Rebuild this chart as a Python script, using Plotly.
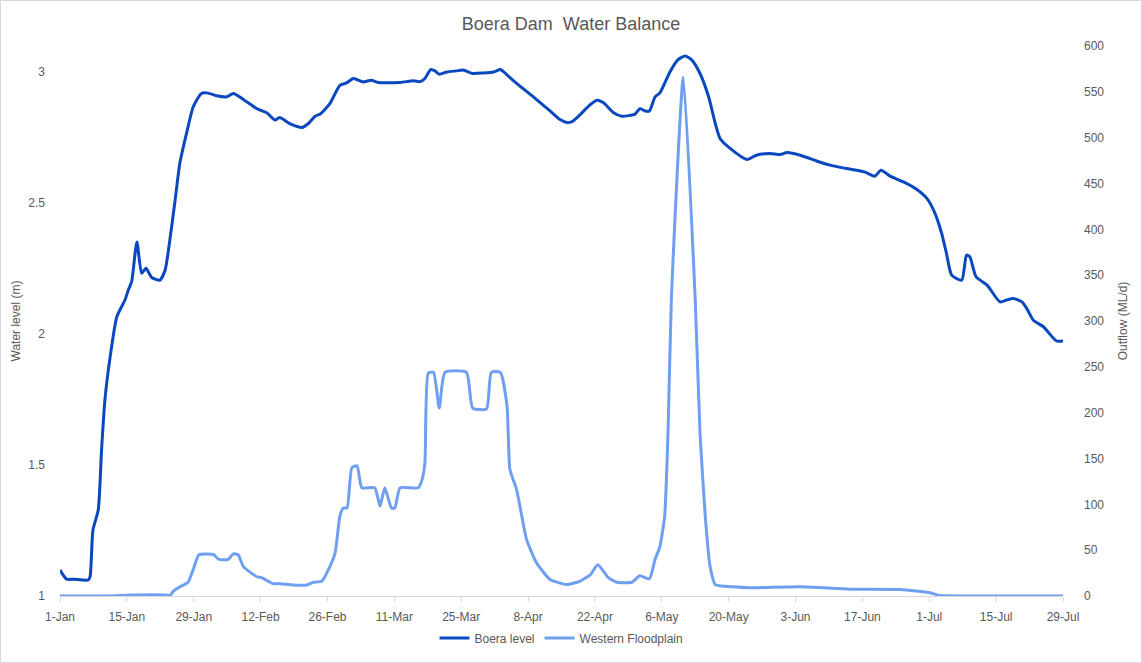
import pandas as pd
import plotly.graph_objects as go

# ---- data (day offsets from 1-Jan) ----
start = pd.Timestamp("2024-01-01")

level_days = [0, 1.4, 2.8, 5.9, 6.3, 6.9, 8.0, 8.7, 9.4, 10.5, 11.9, 13.6, 14.3, 15.0, 16.1, 17.1,
              18.0, 19.2, 20.9, 22.0, 23.0, 24.1, 25.1, 26.5, 27.9, 29.6, 30.8, 32.8, 34.9, 36.3,
              38.4, 41.2, 43.3, 45.0, 46.0, 48.1, 50.7, 52.0, 53.4, 54.5, 56.5, 58.6, 60.0, 61.4,
              63.5, 65.2, 66.6, 71.2, 74.0, 75.4, 76.4, 77.6, 78.5, 79.4, 81.0, 83.0, 84.4, 86.5,
              88.6, 90.8, 92.2, 92.9, 95.6, 99.1, 102.6, 104.7, 106.1, 107.1, 108.8, 110.9, 112.4,
              113.8, 115.9, 117.6, 120.4, 121.4, 122.5, 123.4, 124.6, 125.6, 127.7, 129.4, 130.9,
              132.3, 134.0, 135.8, 137.2, 138.2, 140.3, 143.8, 145.8, 148.6, 150.8, 152.2, 155.0,
              158.4, 161.2, 164.7, 168.5, 170.6, 171.9, 173.8, 176.6, 179.4, 181.5, 183.2, 184.6,
              185.6, 186.7, 188.8, 189.8, 190.5, 191.8, 194.1, 196.8, 198.2, 199.6, 201.4, 202.4,
              203.8, 205.9, 208.6, 210.0]
level_vals = [1.099, 1.064, 1.064, 1.061, 1.074, 1.252, 1.328, 1.557, 1.748, 1.913, 2.066, 2.13,
              2.168, 2.20, 2.352, 2.232, 2.251, 2.216, 2.206, 2.244, 2.359, 2.511, 2.653, 2.767,
              2.868, 2.919, 2.921, 2.91, 2.906, 2.919, 2.896, 2.861, 2.845, 2.817, 2.827, 2.804,
              2.789, 2.804, 2.832, 2.84, 2.88, 2.95, 2.959, 2.976, 2.963, 2.969, 2.961, 2.961,
              2.967, 2.964, 2.976, 3.01, 3.005, 2.992, 3.001, 3.005, 3.008, 2.995, 2.997, 3.001,
              3.01, 3.001, 2.957, 2.906, 2.852, 2.819, 2.808, 2.81, 2.836, 2.874, 2.893, 2.883,
              2.845, 2.832, 2.84, 2.861, 2.852, 2.852, 2.906, 2.921, 3.001, 3.048, 3.062, 3.046,
              2.995, 2.906, 2.804, 2.747, 2.709, 2.667, 2.683, 2.69, 2.686, 2.693, 2.683, 2.661,
              2.645, 2.632, 2.619, 2.603, 2.626, 2.603, 2.581, 2.552, 2.518, 2.461, 2.384, 2.308,
              2.225, 2.206, 2.302, 2.295, 2.219, 2.187, 2.123, 2.13, 2.136, 2.123, 2.098, 2.053,
              2.028, 1.974, 1.974]

flow_days = [0, 10, 15, 22.1, 23.0, 23.7, 25.1, 26.8, 27.9, 29.1, 32.2, 33.2, 35.2, 36.3, 37.3,
             38.4, 41.2, 42.2, 44.6, 46.0, 48.8, 51.7, 53.1, 54.8, 56.5, 57.6, 58.6, 59.3, 60.1,
             61.1, 62.2, 63.2, 65.9, 67.0, 68.0, 69.4, 70.1, 71.2, 75.0, 75.8, 76.4, 77.1, 78.2,
             79.4, 80.6, 85.1, 86.4, 89.3, 90.3, 92.2, 93.6, 94.2, 95.6, 97.7, 99.8, 102.6,
             106.1, 108.8, 111.0, 112.6, 114.8, 116.6, 119.7, 121.4, 123.4, 124.6, 125.6, 126.6,
             127.3, 128.0, 130.5, 133.0, 134.0, 135.1, 136.1, 137.2, 141.0, 144.5, 155.0, 165.4,
             175.9, 182.2, 184.2, 191, 210]
flow_vals = [0, 0, 1, 1, 0.5, 5, 10, 15, 29, 45, 45, 40, 40, 46, 45, 32, 21, 20, 13.5, 13.5, 12,
             12, 15, 16, 32, 47, 87, 96, 96, 140, 142, 118, 118, 98, 118, 96, 96, 118, 118, 127,
             145, 243, 244, 205, 244, 244, 205, 204, 244, 244, 207, 138, 116, 61.5, 36, 18, 12.5,
             16, 23, 34, 20, 15, 15, 22, 18.7, 40, 54, 87, 178, 323, 566, 323, 178, 87, 32.5,
             12.5, 10, 9, 10, 7.5, 7, 3.5, 0.5, 0, 0]

tick_days = list(range(0, 211, 14))

level_x = start + pd.to_timedelta(level_days, unit="D")
flow_x = start + pd.to_timedelta(flow_days, unit="D")
tick_x = start + pd.to_timedelta(tick_days, unit="D")
tick_text = [f"{d.day}-{d.strftime('%b')}" for d in tick_x]

DARK = "#0a48c0"
LIGHT = "#6f9ff0"
GREY = "#595959"
FONT = "Liberation Sans"

fig = go.Figure()
fig.add_trace(go.Scatter(x=level_x, y=level_vals, name="Boera level", mode="lines",
                         line=dict(color=DARK, width=3, shape="spline", smoothing=0.6),
                         yaxis="y"))
fig.add_trace(go.Scatter(x=flow_x, y=flow_vals, name="Western Floodplain", mode="lines",
                         line=dict(color=LIGHT, width=3, shape="spline", smoothing=0.5),
                         yaxis="y2"))

W, H = 1142, 663
L, R, T, B = 60, 79, 46, 67
pw, ph = W - L - R, H - T - B

fig.update_layout(
    width=W, height=H,
    margin=dict(l=L, r=R, t=T, b=B, autoexpand=False),
    paper_bgcolor="white", plot_bgcolor="white",
    font=dict(family=FONT, color=GREY, size=12),
    title=dict(text="Boera Dam  Water Balance", x=0.5, xanchor="center", y=1 - 24 / H,
               yanchor="middle", font=dict(size=18, color=GREY, family=FONT)),
    showlegend=True,
    legend=dict(orientation="h", x=0.5, xanchor="center", xref="paper", y=-(638 - 596) / ph,
                yanchor="middle", font=dict(size=12, color=GREY), itemwidth=30,
                traceorder="normal"),
    xaxis=dict(type="date", range=[tick_x[0], tick_x[-1]], tickmode="array", tickvals=tick_x,
               ticktext=tick_text, showgrid=False, zeroline=False, showline=True,
               linecolor="#d9d9d9", linewidth=1, ticks="outside", ticklen=5,
               ticklabelstandoff=5,
               tickcolor="#d9d9d9", tickfont=dict(size=12, color=GREY), fixedrange=True),
    yaxis=dict(range=[1, 3.1], tickvals=[1, 1.5, 2, 2.5, 3], ticktext=["1", "1.5", "2", "2.5", "3"],
               showgrid=False, zeroline=False, showline=False, ticks="",
               ticklabelstandoff=14, tickfont=dict(size=12, color=GREY),
               title=dict(text="Water level (m)", font=dict(size=12, color=GREY), standoff=5)),
    yaxis2=dict(range=[0, 600], tickvals=list(range(0, 601, 50)), overlaying="y", side="right",
                showgrid=False, zeroline=False, showline=False, ticks="",
                ticklabelstandoff=20, tickfont=dict(size=12, color=GREY),
                title=dict(text="Outflow (ML/d)", font=dict(size=12, color=GREY), standoff=15)),
)

# outer chart border
fig.add_shape(type="rect", xref="paper", yref="paper",
              x0=(0.5 - L) / pw, x1=(W - 0.5 - L) / pw,
              y0=-(B - 0.5) / ph, y1=(H - 0.5 - B) / ph,
              line=dict(color="#d9d9d9", width=1), fillcolor="rgba(0,0,0,0)", layer="below")

fig.write_html("out.html")
